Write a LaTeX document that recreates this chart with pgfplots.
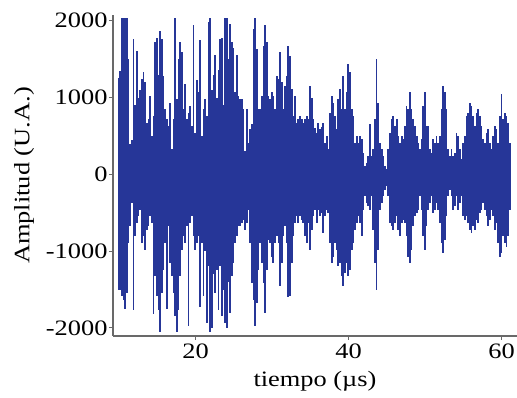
\documentclass[border=0pt]{standalone}
\usepackage{fontspec}
\setmainfont{Liberation Serif}[FakeStretch=1.2]
\usepackage{pgfplots}
\pgfplotsset{compat=1.18}
\usepackage{pgfplotstable}
\definecolor{sig}{RGB}{38,54,152}
\definecolor{axgray}{RGB}{105,105,105}

\pgfplotstableread{
x u l
9.93 1250 -1500
10.14 1350 -1500
10.36 2040 -1590
10.58 2040 -1630
10.80 2040 -1750
11.01 2040 -1540
11.23 1500 -890
11.45 400 -670
11.67 450 -370
11.88 1760 -1760
12.10 900 -800
12.32 1600 -630
12.54 1000 -540
12.75 1100 -460
12.97 1240 -890
13.19 1330 -800
13.41 1200 -980
13.63 670 -720
13.84 720 -670
14.06 1020 -540
14.28 500 -630
14.50 760 -1820
14.71 1720 -1330
14.93 1780 -1590
15.15 1300 -1760
15.37 1870 -2050
15.58 1760 -1540
15.80 1280 -1240
16.02 850 -890
16.24 720 -1750
16.45 630 -670
16.67 935 -1150
16.89 330 -1330
17.11 720 -1540
17.32 2040 -1850
17.54 980 -2050
17.76 1500 -1760
17.98 1720 -1330
18.19 1590 -980
18.41 850 -800
18.63 1170 -890
18.85 720 -670
19.07 800 -1980
19.28 890 -630
19.50 630 -540
19.72 1950 -800
19.94 540 -980
20.15 1235 -890
20.37 1070 -800
20.59 1755 -1730
20.81 500 -900
21.02 850 -1590
21.24 980 -1000
21.46 760 -1940
21.68 1980 -1200
21.89 2040 -2050
22.11 1100 -2000
22.33 1300 -1300
22.55 1560 -1540
22.76 1000 -1240
22.98 1365 -1760
23.20 1760 -1200
23.42 1780 -1850
23.64 900 -1500
23.85 2040 -1940
24.07 2040 -2000
24.29 1500 -1400
24.51 1960 -1800
24.72 1720 -1330
24.94 1650 -1150
25.16 1070 -890
25.38 1560 -800
25.59 1020 -670
25.81 975 -670
26.03 980 -630
26.25 850 -590
26.46 300 -720
26.68 845 -630
26.90 410 -460
27.12 590 -890
27.33 650 -1410
27.55 1890 -1630
27.77 2040 -1980
27.99 1630 -1670
28.20 850 -1240
28.42 850 -890
28.64 1020 -1150
28.86 1670 -1410
29.07 1940 -1800
29.29 1720 -1240
29.51 1020 -850
29.73 980 -890
29.95 1070 -1070
30.16 1020 -1150
30.38 850 -890
30.60 1280 -800
30.82 1240 -890
31.03 1590 -1460
31.25 1200 -1150
31.47 850 -800
31.69 1150 -670
31.90 1280 -890
32.12 1670 -1600
32.34 1540 -1590
32.56 1110 -1150
32.77 760 -800
32.99 1020 -630
33.21 670 -540
33.43 720 -630
33.64 760 -540
33.86 720 -590
34.08 670 -630
34.30 720 -800
34.51 760 -890
34.73 720 -630
34.95 1150 -980
35.17 1000 -720
35.39 720 -540
35.60 600 -460
35.82 540 -630
36.04 670 -460
36.26 590 -540
36.47 620 -500
36.69 670 -760
36.91 410 -540
37.13 500 -460
37.34 330 -500
37.56 800 -890
37.78 1020 -1150
38.00 935 -1070
38.21 760 -890
38.43 590 -980
38.65 980 -1200
38.87 1110 -1150
39.08 850 -1330
39.30 1280 -1460
39.52 850 -1280
39.74 1070 -1150
39.95 1435 -1330
40.17 1330 -1240
40.39 850 -980
40.61 760 -890
40.83 410 -720
41.04 500 -630
41.26 410 -540
41.48 500 -630
41.70 460 -800
41.91 280 -460
42.13 110 -280
42.35 150 -370
42.57 240 -410
42.78 650 -460
43.00 240 -280
43.22 330 -720
43.44 720 -1150
43.65 1500 -1500
43.87 935 -980
44.09 410 -460
44.31 330 -370
44.52 240 -280
44.74 110 -200
44.96 65 -150
45.18 330 -280
45.40 540 -630
45.61 720 -670
45.83 760 -720
46.05 630 -630
46.27 720 -540
46.48 500 -720
46.70 410 -800
46.92 500 -630
47.14 460 -590
47.35 630 -630
47.57 890 -800
47.79 850 -1070
48.01 1070 -1150
48.22 850 -980
48.44 720 -670
48.66 630 -540
48.88 500 -500
49.09 410 -460
49.31 330 -280
49.53 460 -460
49.75 890 -800
49.96 1070 -980
50.18 630 -670
50.40 630 -460
50.62 330 -370
50.84 280 -280
51.05 460 -500
51.27 410 -460
51.49 500 -370
51.71 410 -460
51.92 500 -630
52.14 850 -890
52.36 1150 -1020
52.58 1070 -850
52.79 850 -540
53.01 330 -280
53.23 240 -200
53.45 330 -280
53.66 240 -460
53.88 280 -410
54.10 540 -280
54.32 500 -460
54.53 330 -370
54.75 200 -280
54.97 410 -540
55.19 500 -590
55.40 760 -540
55.62 800 -630
55.84 935 -720
56.06 890 -760
56.28 760 -670
56.49 630 -720
56.71 800 -590
56.93 850 -630
57.15 760 -500
57.36 630 -460
57.58 460 -370
57.80 410 -460
58.02 540 -540
58.23 590 -670
58.45 410 -590
58.67 330 -460
58.89 500 -540
59.10 630 -720
59.32 590 -630
59.54 410 -890
59.76 760 -1070
59.97 1040 -1020
60.19 720 -800
60.41 800 -890
60.63 760 -940
60.84 670 -800
61.06 410 -460
}\data

\begin{document}
\begin{tikzpicture}
\begin{axis}[
  at={(0,0)}, anchor=south west,
  scale only axis, width=404pt, height=321pt,
  xmin=9.2, xmax=62, ymin=-2105, ymax=2075,
  axis lines*=left,
  axis line style={axgray, line width=1.2pt},
  xtick={20,40,60}, xticklabels={20,40,60},
  ytick={-2000,-1000,0,1000,2000}, yticklabels={-2000,-1000,0,1000,2000},
  tick style={axgray, line width=1pt},
  major tick length=4pt,
  tick align=outside,
  tick label style={font=\fontsize{22}{26}\selectfont},
  yticklabel style={xshift=2pt},
  xlabel={tiempo (µs)},
  ylabel={Amplitud (U.A.)},
  every axis x label/.style={at={(axis description cs:0.5,-0.14)}, anchor=center, font=\fontsize{22}{26}\selectfont},
  every axis y label/.style={at={(axis description cs:-0.22,0.5)}, rotate=90, anchor=center, font=\fontsize{22}{26}\selectfont},
]
\addplot[ycomb, sig, line width=1.8pt] table[x=x, y=u] {\data};
\addplot[ycomb, sig, line width=1.8pt] table[x=x, y=l] {\data};
\end{axis}
\pgfresetboundingbox
\path (-113pt,-62pt) rectangle (404pt,336pt);
\end{tikzpicture}
\end{document}
